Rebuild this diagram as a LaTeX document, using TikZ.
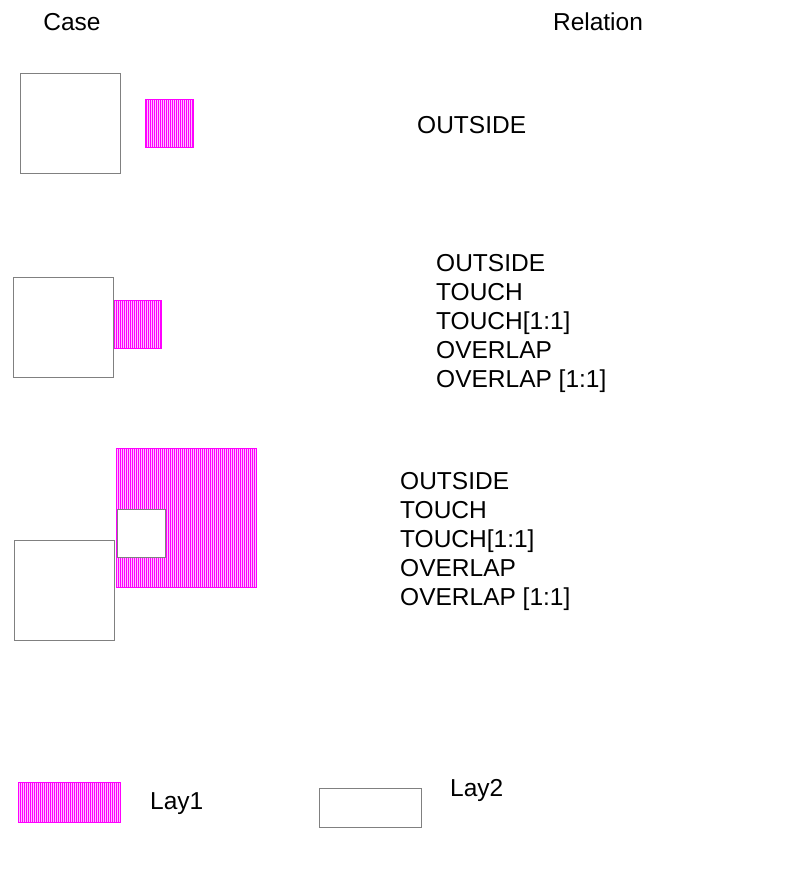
\documentclass[tikz,border=0pt]{standalone}
\usepackage{fontspec}
\setmainfont{Liberation Sans}
\definecolor{mag}{RGB}{255,0,255}
\definecolor{magl}{RGB}{255,190,255}
\definecolor{edge}{RGB}{128,128,128}
\begin{document}
\begin{tikzpicture}[x=1bp,y=-1bp,
  lay2/.style={draw=edge,line width=1bp,fill=white},
  lay1b/.style={fill=magl,draw=mag,line width=0.6bp},
  hatch/.style={draw=mag,line width=1bp},
  lbl/.style={font=\fontsize{24.5bp}{29bp}\selectfont,inner sep=0pt},
  rel/.style={lbl,align=left,anchor=west}]
\newcommand{\layone}[4]{%
  \path[lay1b] (#1,#2) rectangle (#3,#4);
  \pgfmathtruncatemacro{\xa}{#1}
  \pgfmathtruncatemacro{\xb}{#3-1}
  \foreach \xx in {\xa,...,\xb}{%
    \pgfmathtruncatemacro{\odd}{mod(\xx,2)}
    \ifnum\odd=0 \draw[hatch] (\xx+0.5,#2) -- (\xx+0.5,#4);\fi
  }}
\useasboundingbox (0,0) rectangle (798,892);
% headers
\node[lbl] (hcase) at (72,22) {Case};
\node[lbl] (hrel) at (598,22) {Relation};
% case 1
\draw[lay2] (20,73) rectangle (120,173);
\layone{145}{99}{193}{147}
\node[rel] (r1) at (417,125) {OUTSIDE};
% case 2
\draw[lay2] (13,277) rectangle (113,377);
\layone{114}{300}{161}{348}
\node[rel] (r2) at (436,323) {OUTSIDE\\TOUCH\\TOUCH[1:1]\\OVERLAP\\OVERLAP [1:1]};
% case 3
\layone{116}{448}{256}{587}
\draw[lay2] (117,509) rectangle (165,557);
\draw[lay2] (14,540) rectangle (114,640);
\node[rel] (r3) at (400,541) {OUTSIDE\\TOUCH\\TOUCH[1:1]\\OVERLAP\\OVERLAP [1:1]};
% legend
\layone{18}{782}{120}{822}
\node[rel] (l1) at (150,804) {Lay1};
\draw[lay2] (319,788) rectangle (421,827);
\node[rel] (l2) at (450,790) {Lay2};
\end{tikzpicture}
\end{document}
